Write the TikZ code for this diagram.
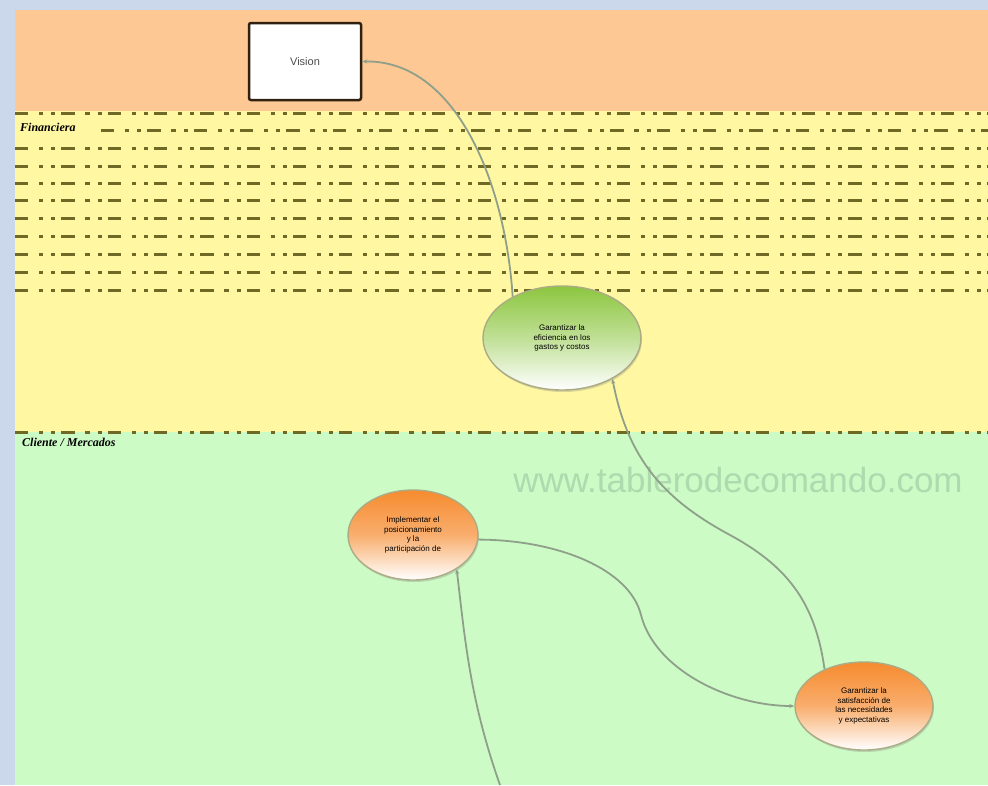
\documentclass[tikz,border=0pt]{standalone}
\usepackage{fontspec}
\setmainfont{Liberation Sans}
\newfontfamily\bandfont{Liberation Serif}
\usetikzlibrary{shapes.geometric,shadows,arrows.meta}

\definecolor{frameblue}{HTML}{CBD8EC}
\definecolor{bandorange}{HTML}{FDC894}
\definecolor{bandyellow}{HTML}{FFF7A2}
\definecolor{bandgreen}{HTML}{CCFBC6}
\definecolor{sepolive}{HTML}{6E6A25}
\definecolor{linkgray}{HTML}{8FA08A}
\definecolor{objgreen}{HTML}{8CC63F}
\definecolor{objorange}{HTML}{F68B2F}
\definecolor{rimgray}{HTML}{ABAB84}
\definecolor{markgreen}{HTML}{AFD9AE}

\tikzset{
  separator/.style={draw=sepolive, line width=3pt,
    dash pattern=on 13.3pt off 10.7pt on 4.3pt off 8pt on 4pt off 6pt},
  bandlabel/.style={anchor=west, inner sep=0pt,
    font=\bandfont\bfseries\itshape\fontsize{12}{12}\selectfont},
  visionbox/.style={draw=black!75!brown, line width=2.5pt, fill=white,
    rounded corners=2pt, minimum width=112pt, minimum height=77pt,
    inner sep=0pt, text=black!70, font=\fontsize{11}{11}\selectfont},
  objective/.style={ellipse, draw=rimgray, line width=1.4pt, align=center,
    inner sep=0pt, font=\fontsize{8}{9.5}\selectfont, text=black,
    drop shadow={shadow xshift=1pt, shadow yshift=-2pt, opacity=.3}},
  greenobj/.style={objective, top color=objgreen, bottom color=white,
    middle color=objgreen!55!white},
  orangeobj/.style={objective, top color=objorange, bottom color=white,
    middle color=objorange!70!white},
  link/.style={draw=linkgray, line width=1.8pt,
    -{Stealth[length=5pt,width=4pt]}},
}

\begin{document}
\begin{tikzpicture}[x=1pt,y=-1pt]
\useasboundingbox (0,0) rectangle (988,785);

% frame and perspective bands
\fill[frameblue] (0,0) rectangle (988,785);
\fill[bandorange] (15,10) rectangle (988,111);
\fill[bandyellow] (15,111) rectangle (988,432);
\fill[bandgreen] (15,432) rectangle (988,785);

% dash-dot separators of the financial band
\foreach \yy in {113,148,166,183,200,218,236,254,272,290}
  \draw[separator] (15,\yy) -- (988,\yy);
\draw[separator] (101,130) -- (988,130);
\draw[separator] (15,432) -- (988,432);

\node[bandlabel] (fin) at (20,127) {Financiera};
\node[bandlabel] (cli) at (22,442) {Cliente / Mercados};

% watermark
\node[text=markgreen, font=\fontsize{35}{35}\selectfont, inner sep=0pt]
  (mark) at (738,480) {www.tablerodecomando.com};

% objectives
\node[visionbox] (vision) at (305,61.5) {Vision};
\node[greenobj, minimum width=158pt, minimum height=104pt]
  (eff) at (562,338) {Garantizar la\\eficiencia en los\\gastos y costos};
\node[orangeobj, minimum width=130pt, minimum height=90pt]
  (pos) at (413,535) {Implementar el\\posicionamiento\\y la\\participación de};
\node[orangeobj, minimum width=138pt, minimum height=88pt]
  (sat) at (864,706) {Garantizar la\\satisfacción de\\las necesidades\\y expectativas};

\coordinate (below) at (500,785);

% cause-effect links
\draw[link] (eff.140) .. controls (505,180) and (455,60) .. (vision.east);
\draw[link] (sat.137) .. controls (815,600) and (785,565) .. (730,535)
  .. controls (665,500) and (628,460) .. (eff.-39);
\draw[link] (pos.-4) .. controls (560,540) and (630,570) .. (641,615)
  .. controls (655,670) and (730,706) .. (sat.west);
\draw[link] (below) .. controls (470,700) and (465,640) .. (pos.-38);
\end{tikzpicture}
\end{document}
